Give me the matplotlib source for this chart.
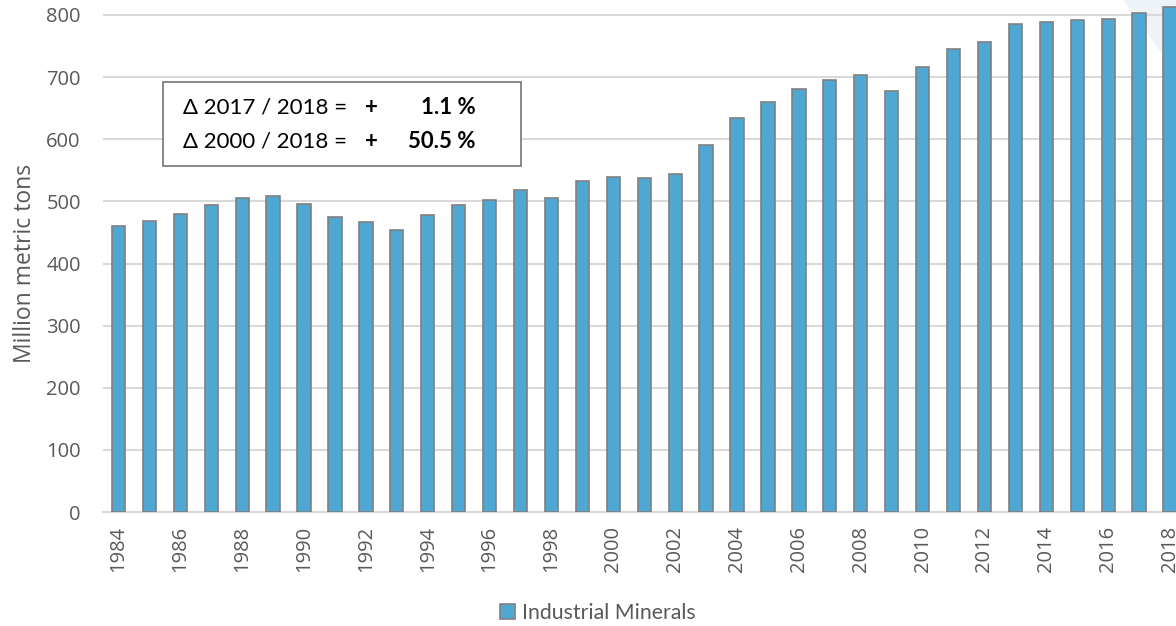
import matplotlib.pyplot as plt
from matplotlib.patches import Polygon

# Industrial minerals production, million metric tons
years = list(range(1984, 2019))
production = [460, 468, 479, 494, 505, 509, 496, 475, 467, 454,
              478, 494, 502, 518, 505, 533, 540, 538, 544, 591,
              635, 660, 681, 696, 703, 677, 717, 746, 757, 785,
              789, 792, 794, 803, 813]
tick_years = years[::2]
box_lines = [("\u0394 2017 / 2018 =", "1.1 %"),
             ("\u0394 2000 / 2018 =", "50.5 %")]

W, H = 1176, 626
fig = plt.figure(figsize=(W / 100, H / 100), dpi=100)

# faint watermark shape in the top right corner
fig.patches.append(Polygon([(1123 / W, 1), (1176 / W, 1), (1176 / W, 1 - 80 / H),
                            (1168 / W, 1 - 62 / H)],
                           closed=True, transform=fig.transFigure,
                           facecolor='#EEF3F7', edgecolor='none', zorder=-5))

# axes placed so that the picture is cropped like the original
px_per_unit = (512 - 15) / 800
y_top = 900
ax_bottom = 1 - 512 / H
ax_height = y_top * px_per_unit / H
ax_left = 103 / W
ax_right = 1185.5 / W
ax = fig.add_axes([ax_left, ax_bottom, ax_right - ax_left, ax_height])
ax.patch.set_alpha(0)

ax.bar(years, production, width=0.43, color='#4FA8D4', edgecolor='#808080',
       linewidth=1.2, label='Industrial Minerals', zorder=3)

ax.set_xlim(1983.5, 2018.5)
ax.set_ylim(0, y_top)
ax.set_yticks(range(0, 900, 100))
ax.set_xticks(tick_years)
ax.set_xticklabels([str(y) for y in tick_years], rotation=90,
                   fontsize=14.5, color='#595959', family='Open Sans')
for lab in ax.get_yticklabels():
    lab.set_fontsize(14.5)
    lab.set_color('#595959')
    lab.set_family('Open Sans')
ax.tick_params(axis='y', length=0, pad=16)
ax.tick_params(axis='x', length=0, pad=10)

ax.grid(axis='y', color='#D9D9D9', linewidth=1.5, zorder=0)
for side in ['top', 'right', 'left']:
    ax.spines[side].set_visible(False)
ax.spines['bottom'].set_color('#D9D9D9')
ax.spines['bottom'].set_linewidth(1.5)

fig.text(25 / W, 1 - 263 / H, 'Million metric tons', rotation=90,
         ha='center', va='center', fontsize=16.5, color='#595959', family='Open Sans')

# delta box
fig.patches.append(plt.Rectangle((163 / W, 1 - 166 / H), 358 / W, 84 / H,
                                 transform=fig.transFigure, facecolor='white',
                                 edgecolor='#808080', linewidth=1.3, zorder=5))
for i, (lhs, rhs) in enumerate(box_lines):
    yy = 1 - (107 + i * 34) / H
    fig.text(183 / W, yy, lhs, ha='left', va='center', fontsize=16,
             family='Lato', color='black', zorder=6)
    fig.text(371 / W, yy, '+', ha='center', va='center', fontsize=16,
             family='Lato', fontweight='bold', color='black', zorder=6)
    fig.text(476 / W, yy, rhs, ha='right', va='center', fontsize=16,
             family='Lato', fontweight='bold', color='black', zorder=6)

leg = fig.legend(loc='center', bbox_to_anchor=(598 / W, 1 - 613 / H), frameon=False,
                 handlelength=0.7, handleheight=0.7, handletextpad=0.35,
                 prop={'family': 'Lato', 'size': 15.3})
for t in leg.get_texts():
    t.set_color('#595959')

fig.savefig('out.png', dpi=100)
